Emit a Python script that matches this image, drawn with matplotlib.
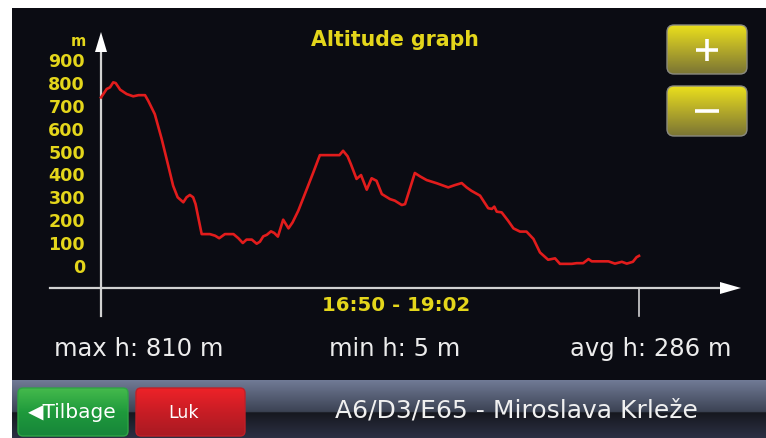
import numpy as np
import matplotlib
matplotlib.use("Agg")
import matplotlib.pyplot as plt
from matplotlib.patches import FancyBboxPatch, Polygon, Rectangle
from matplotlib.colors import LinearSegmentedColormap

# ---- data (minutes since 16:50, altitude in m) ----
minutes = [0, 1.4, 2.2, 3.0, 3.6, 4.7, 6.3, 7.9, 9.2, 10.8, 11.6, 13.2, 14.9, 16.5,
           17.7, 18.8, 20.2, 21.0, 21.8, 22.6, 23.2, 24.7, 26.7, 28.0, 29.0, 30.4,
           32.5, 33.7, 34.8, 35.7, 37.0, 38.2, 39.0, 39.8, 40.7, 41.7, 42.5, 43.4,
           44.7, 46.0, 47.0, 48.4, 50.5, 52.1, 53.7, 56.2, 58.5, 59.4, 60.5, 61.3,
           62.7, 63.8, 65.2, 66.4, 67.6, 68.9, 70.9, 72.1, 73.8, 74.6, 77.0, 78.3,
           79.9, 82.4, 85.2, 86.8, 88.5, 89.7, 90.9, 93.0, 95.0, 95.9, 96.5, 97.1,
           98.3, 99.9, 101.2, 102.8, 104.4, 106.1, 107.7, 109.7, 111.4, 112.6,
           115.5, 116.7, 118.3, 119.6, 120.4, 124.5, 126.1, 127.8, 129.0, 130.5,
           131.4, 132.0]
altitude = [732, 769, 776, 798, 795, 766, 747, 737, 742, 742, 717, 659, 550, 434,
            346, 296, 274, 296, 306, 296, 266, 135, 135, 128, 117, 135,
            135, 117, 96, 111, 111, 93, 102, 125, 132, 147, 140, 124,
            198, 160, 186, 237, 332, 405, 480, 480, 480, 499, 475, 441,
            376, 393, 329, 379, 368, 310, 288, 281, 262, 266, 402, 387,
            371, 357, 339, 349, 358, 339, 324, 303, 248, 245, 255, 233,
            230, 193, 160, 146, 146, 114, 55, 23, 29, 5,
            5, 8, 8, 26, 16, 16, 6, 14, 6, 14,
            34, 40]
y_ticks = [0, 100, 200, 300, 400, 500, 600, 700, 800, 900]
title = "Altitude graph"
time_range = "16:50 - 19:02"
stats = ["max h: 810 m", "min h: 5 m", "avg h: 286 m"]
road = "A6/D3/E65 - Miroslava Krle\u017ee"

W, H = 766, 439
BG = "#0b0c13"
YEL = "#e4d61b"
AX = "#d2d2d2"

fig = plt.figure(figsize=(W / 100, H / 100), dpi=100)
fig.patch.set_facecolor("white")

ui = fig.add_axes([0, 0, 1, 1])
ui.set_autoscale_on(False)
ui.set_xlim(0, W)
ui.set_ylim(H, 0)
ui.axis("off")

# screen background (white margin top/left)
ui.add_patch(Rectangle((12, 9), W - 12, H - 9, facecolor=BG, edgecolor="none", zorder=0))


def grad_box(x0, y0, w, h, colors, radius=0.0, edge=None, z=1):
    cmap = LinearSegmentedColormap.from_list("g", colors)
    im = ui.imshow(np.linspace(0, 1, 256).reshape(-1, 1), cmap=cmap,
                   extent=(x0, x0 + w, y0 + h, y0), aspect="auto",
                   origin="upper", zorder=z, interpolation="bilinear")
    if radius > 0:
        p = FancyBboxPatch((x0 + radius, y0 + radius), w - 2 * radius, h - 2 * radius,
                           boxstyle=f"round,pad={radius}", facecolor="none",
                           edgecolor=edge if edge else "none", lw=1.0, zorder=z + 0.1)
        ui.add_patch(p)
        im.set_clip_path(p)
    return im


# bottom bar
grad_box(12, 381, W - 12, 58,
         [(0, "#717b96"), (0.55, "#3b4253"), (0.56, "#16181f"), (1.0, "#2c3044")], z=1)

# buttons
grad_box(18, 389, 110, 48, ["#45ba4c", "#1f9a3c", "#17853a"], radius=5, edge="#2fa545", z=2)
grad_box(136, 389, 109, 48, ["#ee2228", "#c81d25", "#a81a22"], radius=5, edge="#c02028", z=2)
ui.text(72, 413, "\u25c0Tilbage", color="white", fontsize=14.5, ha="center", va="center",
        family="DejaVu Sans", zorder=5)
ui.text(184, 413, "Luk", color="white", fontsize=12.5, ha="center", va="center",
        family="DejaVu Sans", zorder=5)
ui.text(516, 411, road, color="#f0f0f0", fontsize=18, ha="center", va="center",
        family="DejaVu Sans", zorder=5)

# zoom buttons
grad_box(667, 26, 80, 49, ["#ebe01c", "#b3a92a", "#7a7434"], radius=7, edge="#8a8a80", z=2)
grad_box(667, 87, 80, 50, ["#ebe01c", "#b3a92a", "#7a7434"], radius=7, edge="#8a8a80", z=2)
ui.plot([696, 718], [51, 51], color="white", lw=2.6, solid_capstyle="butt", zorder=5)
ui.plot([707, 707], [40, 62], color="white", lw=2.6, solid_capstyle="butt", zorder=5)
ui.plot([695, 719], [112, 112], color="white", lw=2.6, solid_capstyle="butt", zorder=5)

# axes lines and arrows
ui.plot([101, 101], [317, 50], color=AX, lw=1.6, zorder=3)
ui.add_patch(Polygon([[101, 33], [95, 53], [107, 53]], closed=True, facecolor="white",
                     edgecolor="none", zorder=3))
ui.plot([50, 722], [289, 289], color=AX, lw=1.6, zorder=3)
ui.add_patch(Polygon([[741, 289], [720, 283], [720, 295]], closed=True, facecolor="white",
                     edgecolor="none", zorder=3))
ui.plot([639, 639], [289, 317], color=AX, lw=1.2, zorder=3)

# texts
ui.text(395, 40, title, color=YEL, fontsize=14.8, fontweight="bold", ha="center",
        va="center", family="DejaVu Sans", zorder=5)
ui.text(396, 306, time_range, color=YEL, fontsize=14.2, fontweight="bold", ha="center",
        va="center", family="DejaVu Sans", zorder=5)
ui.text(78, 42, "m", color=YEL, fontsize=10.5, fontweight="bold", ha="center",
        va="center", family="DejaVu Sans", zorder=5)
for txt, xc in zip(stats, [139, 395, 651]):
    ui.text(xc, 349, txt, color="#ececec", fontsize=17.5, ha="center", va="center",
            family="DejaVu Sans", zorder=5)

# data axes mapped to pixels: x 101..639, y 266 (0 m) .. 60 (900 m)
left = 101 / W
width = (639 - 101) / W
bottom = (H - 266) / H
height = (266 - 60) / H
ax = fig.add_axes([left, bottom, width, height])
ax.set_facecolor("none")
for s in ax.spines.values():
    s.set_visible(False)
ax.set_xlim(0, 132)
ax.set_ylim(0, 900)
ax.set_xticks([])
ax.set_yticks(y_ticks)
ax.set_yticklabels([str(v) for v in y_ticks])
ax.tick_params(axis="y", length=0, pad=11.5, labelcolor=YEL, labelsize=12.6)
for lab in ax.get_yticklabels():
    lab.set_fontweight("bold")
    lab.set_family("DejaVu Sans")
ax.plot(minutes, altitude, color="#e21c1c", lw=1.9, clip_on=False, zorder=4)

fig.savefig("out.png", dpi=100, facecolor=fig.get_facecolor())
